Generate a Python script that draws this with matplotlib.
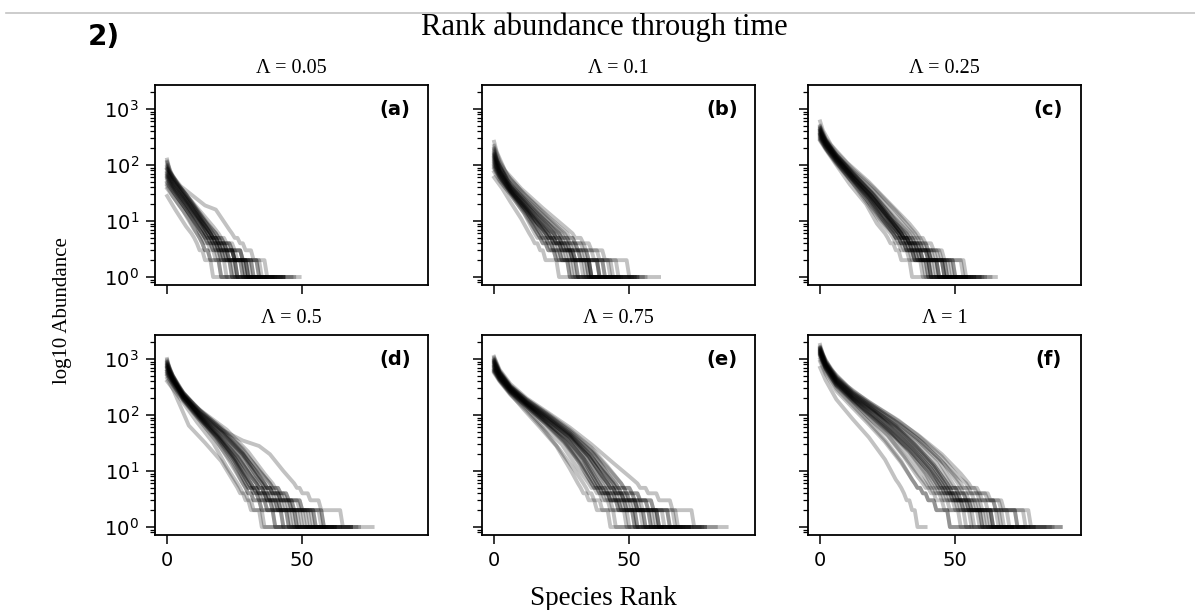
import matplotlib
matplotlib.use("Agg")
import matplotlib.pyplot as plt
from matplotlib.lines import Line2D
from matplotlib.ticker import LogLocator, NullFormatter

# Panel settings
LAMBDAS = ["0.05", "0.1", "0.25", "0.5", "0.75", "1"]
PANEL_LABELS = ["(a)", "(b)", "(c)", "(d)", "(e)", "(f)"]
X_TICKS = [0, 50]
Y_TICKS = [1, 10, 100, 1000]

# Each curve: knots (rank, abundance) down to abundance 6, then the number of
# species at abundance 5, 4, 3, 2, 1.
TAIL_LEVELS = [5, 4, 3, 2, 1]

CURVES_A = [
    ([(0, 85), (5, 42), (14, 19), (18, 16), (23, 7), (24, 6)], [2, 2, 3, 5, 7]),
    ([(0, 125), (1, 80), (4, 45), (10, 20), (17, 8), (19, 6)], [2, 3, 3, 6, 10]),
    ([(0, 95), (2, 60), (6, 32), (12, 13), (16, 7), (17, 6)], [2, 2, 3, 5, 12]),
    ([(0, 70), (3, 40), (8, 20), (14, 8), (16, 6)], [1, 2, 3, 6, 11]),
    ([(0, 60), (2, 42), (7, 20), (12, 9), (14, 6)], [2, 2, 2, 5, 9]),
    ([(0, 55), (3, 32), (8, 14), (12, 7), (13, 6)], [1, 2, 3, 4, 8]),
    ([(0, 45), (4, 25), (9, 12), (13, 6)], [2, 2, 2, 5, 10]),
    ([(0, 38), (3, 24), (8, 11), (11, 6)], [1, 1, 2, 4, 7]),
    ([(0, 28), (3, 16), (7, 8), (9, 6)], [1, 1, 2, 3, 6]),
    ([(0, 75), (2, 50), (6, 28), (11, 13), (16, 6)], [2, 3, 3, 5, 14]),
    ([(0, 65), (3, 38), (9, 16), (15, 7), (16, 6)], [2, 2, 4, 7, 15]),
    ([(0, 90), (3, 50), (8, 25), (13, 11), (18, 6)], [2, 3, 4, 7, 13]),
    ([(0, 50), (2, 35), (6, 19), (11, 8), (12, 6)], [1, 2, 2, 4, 9]),
    ([(0, 110), (2, 62), (5, 40), (9, 22), (15, 9), (18, 6)], [2, 3, 4, 6, 16]),
    ([(0, 80), (2, 52), (6, 28), (11, 13), (15, 6)], [2, 2, 3, 6, 12]),
    ([(0, 62), (3, 35), (7, 20), (12, 9), (14, 6)], [1, 2, 3, 5, 11]),
    ([(0, 100), (1, 68), (5, 35), (10, 17), (15, 7), (16, 6)], [2, 3, 3, 5, 10]),
    ([(0, 72), (2, 46), (6, 25), (10, 13), (15, 6)], [1, 2, 3, 6, 9]),
    ([(0, 58), (2, 38), (6, 21), (11, 10), (14, 6)], [2, 2, 3, 4, 7]),
    ([(0, 48), (3, 30), (7, 16), (11, 8), (13, 6)], [1, 2, 2, 5, 8]),
    ([(0, 85), (2, 55), (6, 30), (12, 12), (16, 6)], [2, 2, 4, 6, 13]),
    ([(0, 42), (2, 28), (6, 15), (10, 7), (11, 6)], [1, 1, 2, 4, 6]),
    ([(0, 66), (2, 44), (7, 22), (12, 10), (15, 6)], [2, 2, 3, 5, 10]),
    ([(0, 115), (1, 75), (4, 45), (9, 22), (14, 10), (17, 6)], [2, 3, 3, 6, 11]),
]

CURVES_B = [
    ([(0, 260), (1, 170), (4, 80), (10, 38), (18, 17), (26, 8), (29, 6)], [3, 3, 5, 9, 12]),
    ([(0, 200), (2, 110), (6, 55), (12, 28), (20, 12), (27, 6)], [2, 3, 4, 7, 10]),
    ([(0, 170), (2, 95), (6, 45), (12, 22), (19, 10), (24, 6)], [2, 3, 4, 7, 12]),
    ([(0, 150), (2, 80), (5, 48), (11, 22), (17, 10), (22, 6)], [2, 2, 3, 6, 10]),
    ([(0, 130), (2, 75), (6, 38), (12, 17), (17, 8), (19, 6)], [2, 2, 3, 6, 10]),
    ([(0, 110), (2, 70), (5, 40), (10, 20), (15, 10), (20, 6)], [2, 3, 3, 6, 12]),
    ([(0, 90), (3, 50), (7, 28), (12, 13), (16, 6)], [2, 2, 3, 5, 10]),
    ([(0, 60), (3, 38), (6, 22), (10, 11), (13, 6)], [1, 2, 2, 5, 8]),
    ([(0, 140), (2, 90), (6, 42), (13, 18), (20, 9), (24, 6)], [3, 3, 4, 8, 14]),
    ([(0, 180), (1, 120), (5, 55), (11, 27), (18, 13), (25, 6)], [2, 3, 4, 6, 13]),
    ([(0, 100), (3, 55), (8, 27), (14, 12), (19, 6)], [2, 3, 4, 6, 10]),
    ([(0, 75), (2, 52), (6, 30), (11, 14), (16, 6)], [1, 2, 3, 5, 9]),
    ([(0, 120), (2, 70), (6, 35), (13, 15), (20, 7), (22, 6)], [2, 3, 4, 7, 12]),
    ([(0, 220), (2, 120), (5, 65), (11, 30), (18, 14), (26, 6)], [3, 4, 5, 7, 10]),
    ([(0, 160), (2, 85), (6, 40), (12, 18), (18, 8), (20, 6)], [2, 3, 4, 6, 11]),
    ([(0, 125), (2, 72), (6, 36), (12, 16), (17, 8), (19, 6)], [2, 3, 3, 6, 10]),
    ([(0, 145), (2, 78), (6, 38), (12, 17), (18, 8), (20, 6)], [2, 2, 4, 7, 12]),
    ([(0, 105), (2, 62), (6, 32), (11, 16), (17, 7), (18, 6)], [2, 2, 3, 5, 9]),
    ([(0, 190), (1, 120), (5, 52), (12, 22), (19, 9), (22, 6)], [2, 3, 4, 7, 13]),
    ([(0, 135), (2, 80), (6, 40), (13, 17), (19, 8), (21, 6)], [2, 3, 3, 6, 11]),
    ([(0, 115), (2, 66), (6, 34), (12, 15), (16, 7), (17, 6)], [2, 2, 3, 5, 10]),
    ([(0, 85), (2, 55), (6, 30), (11, 14), (15, 6)], [2, 2, 3, 5, 8]),
    ([(0, 155), (2, 88), (6, 44), (13, 20), (20, 9), (23, 6)], [2, 3, 4, 6, 14]),
    ([(0, 95), (2, 60), (6, 33), (12, 15), (17, 6)], [2, 2, 3, 6, 11]),
]

CURVES_C = [
    ([(0, 600), (1, 420), (4, 230), (10, 110), (18, 50), (26, 20), (33, 9), (36, 6)], [2, 3, 4, 8, 12]),
    ([(0, 500), (2, 300), (6, 170), (12, 85), (20, 38), (28, 15), (35, 6)], [2, 2, 4, 6, 10]),
    ([(0, 450), (2, 280), (6, 150), (12, 75), (19, 33), (26, 13), (31, 6)], [2, 3, 4, 6, 11]),
    ([(0, 400), (2, 260), (6, 140), (12, 65), (19, 28), (25, 12), (30, 6)], [2, 2, 3, 6, 10]),
    ([(0, 360), (2, 240), (6, 125), (12, 58), (18, 28), (24, 11), (29, 6)], [1, 2, 3, 5, 10]),
    ([(0, 330), (2, 220), (6, 120), (12, 55), (18, 25), (23, 11), (28, 6)], [2, 2, 3, 5, 8]),
    ([(0, 300), (2, 200), (6, 105), (12, 48), (17, 22), (22, 10), (26, 6)], [1, 2, 3, 5, 9]),
    ([(0, 270), (2, 190), (6, 100), (11, 45), (17, 20), (21, 9), (24, 6)], [1, 2, 2, 4, 8]),
    ([(0, 420), (2, 270), (6, 145), (12, 70), (20, 30), (27, 12), (33, 6)], [2, 3, 4, 7, 12]),
    ([(0, 350), (2, 230), (7, 120), (13, 55), (20, 24), (26, 10), (30, 6)], [2, 3, 4, 6, 9]),
    ([(0, 380), (2, 250), (6, 135), (12, 62), (18, 30), (25, 12), (32, 6)], [2, 3, 3, 6, 10]),
    ([(0, 310), (2, 210), (6, 115), (11, 55), (17, 25), (22, 11), (27, 6)], [2, 2, 3, 5, 9]),
    ([(0, 460), (1, 330), (5, 170), (12, 78), (20, 34), (27, 14), (34, 6)], [2, 3, 5, 8, 11]),
    ([(0, 280), (3, 170), (8, 85), (14, 38), (20, 16), (25, 8), (27, 6)], [1, 2, 3, 5, 9]),
    ([(0, 420), (2, 260), (6, 140), (12, 66), (18, 32), (24, 14), (30, 6)], [2, 2, 3, 6, 11]),
    ([(0, 340), (2, 230), (6, 128), (12, 60), (18, 28), (24, 12), (29, 6)], [2, 2, 3, 5, 9]),
    ([(0, 390), (2, 250), (6, 135), (12, 62), (19, 28), (25, 12), (30, 6)], [2, 3, 4, 6, 12]),
    ([(0, 320), (2, 215), (6, 118), (12, 56), (18, 26), (23, 12), (28, 6)], [1, 2, 3, 6, 10]),
    ([(0, 480), (2, 290), (6, 155), (12, 72), (19, 32), (26, 13), (32, 6)], [2, 3, 4, 7, 11]),
    ([(0, 370), (2, 245), (6, 130), (12, 60), (18, 29), (24, 13), (29, 6)], [2, 2, 4, 6, 11]),
    ([(0, 290), (2, 200), (6, 110), (12, 52), (18, 24), (23, 11), (27, 6)], [2, 2, 3, 5, 9]),
    ([(0, 410), (2, 265), (6, 142), (13, 64), (20, 28), (26, 11), (31, 6)], [2, 3, 4, 7, 13]),
    ([(0, 350), (2, 235), (6, 126), (11, 62), (17, 30), (23, 13), (29, 6)], [2, 2, 3, 6, 10]),
    ([(0, 440), (2, 275), (6, 148), (12, 70), (19, 31), (25, 13), (30, 6)], [2, 3, 4, 6, 10]),
]

CURVES_D = [
    ([(0, 700), (2, 420), (6, 220), (12, 110), (20, 55), (28, 35), (34, 28), (38, 20), (43, 10), (47, 6)], [2, 3, 4, 8, 12]),
    ([(0, 1000), (1, 650), (4, 330), (10, 150), (18, 70), (26, 30), (33, 12), (38, 6)], [2, 3, 5, 8, 12]),
    ([(0, 850), (2, 500), (6, 240), (12, 110), (20, 50), (27, 22), (33, 10), (36, 6)], [2, 3, 4, 7, 12]),
    ([(0, 750), (2, 450), (6, 220), (12, 100), (19, 45), (26, 18), (31, 8), (33, 6)], [2, 2, 4, 6, 11]),
    ([(0, 600), (2, 400), (6, 200), (12, 90), (18, 42), (24, 18), (30, 6)], [2, 3, 3, 6, 10]),
    ([(0, 500), (2, 350), (6, 180), (12, 80), (18, 35), (24, 14), (28, 6)], [1, 2, 3, 5, 9]),
    ([(0, 450), (2, 300), (5, 140), (8, 65), (14, 32), (20, 15), (25, 6)], [1, 2, 2, 4, 8]),
    ([(0, 900), (2, 520), (6, 250), (12, 120), (20, 60), (28, 25), (34, 10), (38, 6)], [3, 3, 5, 8, 14]),
    ([(0, 650), (2, 420), (6, 210), (13, 95), (20, 45), (27, 18), (32, 8), (34, 6)], [2, 3, 4, 7, 12]),
    ([(0, 550), (2, 380), (6, 190), (12, 85), (19, 38), (25, 15), (29, 6)], [2, 2, 3, 6, 10]),
    ([(0, 800), (2, 480), (6, 230), (13, 105), (21, 48), (28, 20), (34, 8), (36, 6)], [3, 3, 4, 8, 16]),
    ([(0, 700), (2, 440), (6, 215), (12, 95), (18, 44), (25, 17), (30, 7), (31, 6)], [2, 3, 3, 6, 13]),
    ([(0, 400), (2, 300), (6, 165), (11, 75), (17, 32), (22, 12), (26, 6)], [1, 2, 2, 4, 8]),
    ([(0, 950), (1, 600), (5, 270), (12, 125), (22, 55), (30, 22), (36, 9), (39, 6)], [2, 3, 5, 8, 11]),
    ([(0, 780), (2, 460), (6, 225), (12, 100), (19, 46), (26, 19), (31, 8), (33, 6)], [2, 3, 4, 7, 12]),
    ([(0, 620), (2, 410), (6, 205), (12, 92), (19, 42), (25, 17), (31, 6)], [2, 3, 4, 6, 11]),
    ([(0, 720), (2, 450), (6, 220), (12, 98), (19, 44), (26, 18), (32, 7), (33, 6)], [2, 2, 4, 7, 14]),
    ([(0, 560), (2, 390), (6, 195), (12, 86), (18, 40), (24, 16), (29, 6)], [2, 2, 3, 6, 11]),
    ([(0, 880), (2, 510), (6, 245), (13, 110), (21, 50), (28, 21), (34, 8), (36, 6)], [2, 3, 5, 8, 13]),
    ([(0, 680), (2, 430), (6, 212), (12, 96), (18, 46), (25, 18), (31, 6)], [2, 3, 4, 7, 12]),
    ([(0, 520), (2, 360), (6, 185), (12, 82), (18, 36), (23, 15), (28, 6)], [1, 2, 3, 5, 10]),
    ([(0, 760), (2, 455), (6, 222), (12, 100), (20, 48), (28, 20), (33, 8), (35, 6)], [2, 3, 4, 7, 11]),
    ([(0, 600), (2, 395), (6, 198), (12, 88), (19, 40), (25, 16), (30, 6)], [2, 2, 4, 6, 12]),
    ([(0, 820), (2, 470), (6, 235), (12, 105), (20, 50), (27, 21), (33, 8), (35, 6)], [3, 3, 4, 8, 15]),
]

CURVES_E = [
    ([(0, 1100), (2, 650), (6, 360), (12, 200), (20, 110), (28, 60), (36, 30), (44, 14), (50, 8), (53, 6)], [3, 4, 5, 8, 13]),
    ([(0, 1000), (2, 600), (6, 330), (12, 185), (20, 100), (28, 52), (36, 24), (43, 10), (47, 6)], [3, 3, 5, 8, 12]),
    ([(0, 900), (2, 560), (6, 310), (12, 170), (20, 90), (28, 45), (35, 20), (41, 9), (44, 6)], [2, 3, 4, 7, 13]),
    ([(0, 800), (2, 500), (6, 290), (12, 160), (20, 80), (28, 40), (34, 18), (40, 7), (41, 6)], [2, 3, 4, 7, 11]),
    ([(0, 700), (2, 460), (6, 270), (12, 150), (19, 78), (27, 36), (33, 16), (38, 6)], [2, 2, 4, 6, 10]),
    ([(0, 600), (2, 420), (6, 250), (12, 140), (19, 70), (26, 32), (32, 13), (36, 6)], [2, 2, 3, 6, 10]),
    ([(0, 560), (2, 400), (6, 230), (12, 120), (18, 58), (24, 25), (30, 10), (33, 6)], [1, 2, 3, 5, 9]),
    ([(0, 1050), (2, 620), (6, 340), (12, 190), (20, 105), (28, 55), (36, 26), (42, 12), (47, 6)], [3, 3, 5, 9, 15]),
    ([(0, 850), (2, 540), (6, 300), (12, 165), (20, 85), (28, 42), (35, 18), (40, 8), (42, 6)], [2, 3, 5, 8, 12]),
    ([(0, 750), (2, 480), (6, 280), (12, 155), (20, 78), (27, 38), (33, 17), (39, 6)], [2, 3, 4, 7, 12]),
    ([(0, 650), (2, 440), (6, 260), (12, 145), (19, 72), (26, 34), (31, 15), (36, 6)], [2, 3, 4, 6, 11]),
    ([(0, 950), (2, 580), (6, 320), (13, 175), (21, 92), (29, 46), (37, 20), (42, 9), (45, 6)], [3, 3, 5, 8, 14]),
    ([(0, 620), (2, 430), (6, 240), (11, 125), (17, 60), (23, 28), (28, 11), (31, 6)], [1, 2, 3, 5, 8]),
    ([(0, 880), (2, 550), (6, 305), (12, 168), (20, 88), (28, 44), (36, 19), (41, 8), (43, 6)], [2, 3, 4, 8, 12]),
    ([(0, 820), (2, 520), (6, 295), (12, 162), (20, 82), (28, 41), (35, 18), (41, 7), (42, 6)], [2, 3, 5, 7, 13]),
    ([(0, 720), (2, 470), (6, 275), (12, 152), (19, 76), (27, 37), (33, 16), (38, 6)], [2, 3, 4, 7, 11]),
    ([(0, 780), (2, 490), (6, 285), (12, 158), (20, 80), (28, 40), (34, 18), (40, 6)], [2, 3, 4, 8, 12]),
    ([(0, 680), (2, 450), (6, 265), (12, 148), (19, 74), (26, 35), (32, 15), (37, 6)], [2, 3, 4, 6, 10]),
    ([(0, 960), (2, 590), (6, 325), (12, 180), (20, 95), (28, 48), (36, 22), (42, 9), (45, 6)], [3, 3, 5, 8, 13]),
    ([(0, 860), (2, 545), (6, 302), (12, 166), (20, 86), (28, 43), (35, 19), (40, 8), (42, 6)], [2, 3, 4, 7, 12]),
    ([(0, 640), (2, 435), (6, 255), (12, 142), (19, 70), (26, 33), (32, 14), (37, 6)], [2, 3, 3, 6, 10]),
    ([(0, 920), (2, 570), (6, 315), (12, 175), (20, 92), (28, 47), (35, 21), (41, 9), (44, 6)], [2, 3, 5, 8, 14]),
    ([(0, 740), (2, 480), (6, 280), (12, 155), (19, 78), (27, 38), (33, 17), (39, 6)], [2, 3, 4, 7, 13]),
    ([(0, 590), (2, 410), (6, 240), (12, 130), (18, 64), (25, 30), (30, 13), (35, 6)], [2, 2, 3, 6, 9]),
]

CURVES_F = [
    ([(0, 1790), (1, 1200), (4, 650), (10, 330), (18, 170), (27, 90), (36, 45), (45, 20), (52, 9), (55, 6)], [3, 4, 5, 10, 12]),
    ([(0, 1600), (2, 900), (6, 480), (12, 260), (20, 140), (28, 75), (36, 38), (44, 17), (50, 8), (52, 6)], [3, 4, 5, 8, 13]),
    ([(0, 1500), (2, 850), (6, 440), (12, 240), (20, 125), (28, 65), (36, 32), (43, 14), (48, 6)], [3, 3, 5, 8, 12]),
    ([(0, 1400), (2, 800), (6, 410), (12, 220), (20, 115), (28, 58), (35, 28), (42, 12), (46, 6)], [2, 3, 5, 7, 13]),
    ([(0, 1300), (2, 760), (6, 380), (12, 200), (19, 105), (27, 52), (34, 25), (40, 11), (44, 6)], [2, 3, 4, 7, 11]),
    ([(0, 1200), (2, 700), (6, 350), (12, 185), (19, 95), (26, 48), (33, 22), (39, 9), (41, 6)], [2, 3, 4, 6, 10]),
    ([(0, 1100), (2, 650), (6, 330), (12, 170), (18, 88), (25, 42), (31, 18), (36, 8), (38, 6)], [2, 2, 3, 6, 9]),
    ([(0, 700), (2, 420), (6, 190), (12, 85), (18, 40), (24, 16), (28, 7), (29, 6)], [1, 1, 2, 2, 4]),
    ([(0, 1650), (2, 950), (6, 500), (12, 270), (20, 150), (29, 80), (37, 40), (45, 18), (51, 8), (54, 6)], [3, 4, 5, 9, 14]),
    ([(0, 1450), (2, 830), (6, 430), (12, 230), (20, 120), (28, 62), (35, 30), (42, 13), (47, 6)], [3, 3, 4, 8, 12]),
    ([(0, 1350), (2, 780), (6, 400), (12, 210), (20, 110), (27, 55), (34, 26), (41, 11), (45, 6)], [2, 3, 5, 8, 12]),
    ([(0, 1000), (2, 600), (6, 300), (12, 150), (18, 75), (24, 36), (30, 15), (34, 7), (35, 6)], [2, 2, 3, 5, 8]),
    ([(0, 1550), (2, 880), (6, 460), (12, 250), (21, 130), (30, 66), (38, 32), (46, 13), (51, 6)], [3, 4, 6, 8, 14]),
    ([(0, 1250), (2, 730), (6, 370), (12, 195), (19, 100), (26, 50), (33, 24), (40, 10), (43, 6)], [2, 3, 4, 7, 12]),
    ([(0, 1380), (2, 790), (6, 405), (12, 215), (20, 112), (27, 56), (34, 27), (41, 11), (45, 6)], [2, 3, 4, 8, 13]),
    ([(0, 1280), (2, 750), (6, 375), (12, 198), (19, 102), (26, 51), (33, 24), (40, 10), (43, 6)], [2, 3, 4, 7, 12]),
    ([(0, 1480), (2, 840), (6, 435), (12, 235), (20, 122), (28, 63), (35, 30), (42, 13), (47, 6)], [3, 3, 5, 8, 13]),
    ([(0, 1180), (2, 690), (6, 345), (12, 180), (19, 92), (26, 46), (32, 21), (38, 9), (40, 6)], [2, 3, 4, 6, 11]),
    ([(0, 1560), (2, 890), (6, 465), (12, 252), (20, 133), (28, 70), (36, 35), (44, 15), (49, 6)], [3, 4, 5, 8, 14]),
    ([(0, 1330), (2, 770), (6, 390), (12, 205), (20, 108), (27, 54), (34, 26), (41, 11), (44, 6)], [2, 3, 5, 7, 12]),
    ([(0, 1150), (2, 670), (6, 340), (12, 175), (18, 90), (25, 44), (31, 19), (37, 8), (39, 6)], [2, 3, 3, 6, 10]),
    ([(0, 1420), (2, 810), (6, 420), (12, 225), (20, 118), (28, 60), (35, 29), (42, 12), (46, 6)], [2, 3, 4, 8, 14]),
    ([(0, 1230), (2, 720), (6, 360), (12, 190), (19, 98), (26, 49), (33, 23), (39, 10), (42, 6)], [2, 3, 4, 7, 11]),
    ([(0, 900), (2, 540), (6, 270), (12, 135), (18, 68), (24, 33), (30, 14), (35, 6)], [2, 2, 3, 5, 9]),
]

PANEL_CURVES = [CURVES_A, CURVES_B, CURVES_C, CURVES_D, CURVES_E, CURVES_F]


def curve_xy(knots, tail):
    """Rank/abundance vertices: smooth head followed by integer plateaus."""
    ranks = [k[0] for k in knots]
    abund = [k[1] for k in knots]
    pos = knots[-1][0] + 1
    for level, n in zip(TAIL_LEVELS, tail):
        if n <= 0:
            continue
        ranks += [pos, pos + n - 1]
        abund += [level, level]
        pos += n
    return ranks, abund


W, H = 1195, 610
fig = plt.figure(figsize=(W / 100, H / 100), dpi=100)
fig.patch.set_facecolor("white")

SERIF = "Liberation Serif"
col_left = [155, 482, 808]
row_top = [85, 335]
ax_w, ax_h = 273, 200

axes = []
for i in range(6):
    r, c = divmod(i, 3)
    left = col_left[c] / W
    bottom = 1 - (row_top[r] + ax_h) / H
    ax = fig.add_axes([left, bottom, ax_w / W, ax_h / H])
    axes.append(ax)

for i, ax in enumerate(axes):
    r, c = divmod(i, 3)
    for knots, tail in PANEL_CURVES[i]:
        xs, ys = curve_xy(knots, tail)
        ax.plot(xs, ys, color="black", alpha=0.24, lw=2.8, solid_joinstyle="round")
    ax.set_yscale("log")
    ax.set_xlim(-4.5, 96.5)
    ax.set_ylim(0.72, 2690)
    ax.set_xticks(X_TICKS)
    ax.set_yticks(Y_TICKS)
    ax.yaxis.set_minor_locator(LogLocator(base=10, subs=range(2, 10), numticks=20))
    ax.yaxis.set_minor_formatter(NullFormatter())
    ax.tick_params(axis="both", which="major", length=6.5, width=1.1, labelsize=14, pad=5)
    ax.tick_params(axis="y", which="minor", length=3.5, width=0.9)
    for sp in ax.spines.values():
        sp.set_linewidth(1.3)
    if r == 0:
        ax.tick_params(axis="x", labelbottom=False)
    if c != 0:
        ax.tick_params(axis="y", labelleft=False)
    ax.set_title("\u039b = " + LAMBDAS[i], fontsize=14.5, family=SERIF, pad=8.5)
    ax.text(0.88, 0.875, PANEL_LABELS[i], transform=ax.transAxes, ha="center", va="center",
            fontsize=14, fontweight="bold")

# Figure-level text
fig.text(604 / W, 1 - 35 / H, "Rank abundance through time", ha="center", va="baseline",
         fontsize=22, family=SERIF)
fig.text(104 / W, 1 - 37.5 / H, "2)", ha="center", va="center", fontsize=20, fontweight="bold")
fig.text(603 / W, 1 - 605 / H, "Species Rank", ha="center", va="baseline", fontsize=19.5, family=SERIF)
fig.text(63 / W, 1 - 311 / H, "log10 Abundance", ha="center", va="center", rotation=90,
         fontsize=15, family=SERIF)

fig.add_artist(Line2D([6 / W, 1.0], [1 - 13.3 / H, 1 - 13.3 / H], color="#c4c4c4", lw=1.2))

fig.savefig("out.png", dpi=100, facecolor="white")
